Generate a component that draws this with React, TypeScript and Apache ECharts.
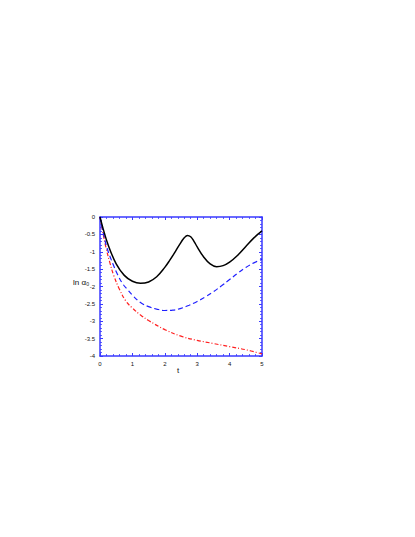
import React, { useEffect, useRef } from "react";
import * as echarts from "echarts";

const tBlack = [0, 0.1, 0.25, 0.5, 0.75, 1.0, 1.25, 1.5, 1.75, 2.0, 2.15, 2.3, 2.45, 2.6, 2.7, 2.8, 2.9, 3.0, 3.2, 3.4, 3.6, 3.8, 4.0, 4.25, 4.5, 4.75, 5.0];
const vBlack = [0, -0.35, -0.8, -1.35, -1.68, -1.85, -1.91, -1.87, -1.72, -1.45, -1.25, -1.03, -0.8, -0.6, -0.53, -0.57, -0.7, -0.86, -1.15, -1.35, -1.43, -1.4, -1.3, -1.1, -0.85, -0.6, -0.4];

const tBlue = [0, 0.1, 0.22, 0.4, 0.55, 0.7, 0.86, 1.0, 1.25, 1.5, 1.75, 2.0, 2.25, 2.5, 2.75, 3.0, 3.25, 3.5, 3.75, 4.0, 4.25, 4.5, 4.75, 5.0];
const vBlue = [0, -0.45, -0.9, -1.35, -1.67, -1.92, -2.1, -2.25, -2.46, -2.58, -2.65, -2.69, -2.68, -2.63, -2.54, -2.43, -2.3, -2.15, -1.98, -1.8, -1.62, -1.45, -1.32, -1.22];

const tRed = [0, 0.1, 0.19, 0.3, 0.42, 0.6, 0.8, 1.0, 1.25, 1.5, 2.0, 2.5, 3.0, 3.5, 4.0, 4.5, 5.0];
const vRed = [0, -0.5, -0.9, -1.3, -1.67, -2.08, -2.42, -2.62, -2.82, -2.98, -3.24, -3.43, -3.55, -3.64, -3.73, -3.82, -3.94];

const xTicks = [0, 1, 2, 3, 4, 5];
const yTicks = [0, -0.5, -1, -1.5, -2, -2.5, -3, -3.5, -4];

const axisBlue = "#3a3aff";
const font = "Liberation Sans, Arial, sans-serif";

function pairs(t: number[], v: number[]) {
  return t.map((x, i) => [x, v[i]]);
}

export default function App() {
  const ref = useRef<HTMLDivElement>(null);
  useEffect(() => {
    if (!ref.current) return;
    const chart = echarts.init(ref.current, null, { renderer: "svg" });
    const axisCommon = {
      axisLine: { show: true, onZero: false, lineStyle: { color: axisBlue, width: 1.5 } },
      axisTick: { show: true, inside: true, length: 3, lineStyle: { color: axisBlue, width: 1 } },
      minorTick: { show: true, splitNumber: 5, length: 2, lineStyle: { color: axisBlue, width: 0.8 } },
      splitLine: { show: false },
    };
    const labelStyle = { fontSize: 6, color: "#111", fontFamily: font };
    chart.setOption({
      animation: false,
      backgroundColor: "#fff",
      grid: { left: 100, top: 217, width: 162, height: 139, containLabel: false },
      xAxis: [
        {
          type: "value", min: 0, max: 5, interval: 1, position: "bottom",
          ...axisCommon,
          axisLabel: { ...labelStyle, margin: 5, formatter: (v: number) => (xTicks.includes(v) ? String(v) : "") },
        },
        {
          type: "value", min: 0, max: 5, interval: 1, position: "top",
          ...axisCommon, axisLabel: { show: false },
        },
      ],
      yAxis: [
        {
          type: "value", min: -4, max: 0, interval: 0.5, position: "left",
          ...axisCommon,
          axisLabel: { ...labelStyle, margin: 5, formatter: (v: number) => (yTicks.includes(v) ? String(v) : "") },
        },
        {
          type: "value", min: -4, max: 0, interval: 0.5, position: "right",
          ...axisCommon, axisLabel: { show: false },
        },
      ],
      graphic: [
        { type: "text", left: 73, top: 278, style: { text: "ln α₀", fontSize: 8, fill: "#111", fontFamily: font } },
        { type: "text", left: 177, top: 366, style: { text: "t", fontSize: 8, fill: "#111", fontFamily: font } },
      ],
      series: [
        {
          type: "line", data: pairs(tRed, vRed), smooth: 0.4, showSymbol: false,
          lineStyle: { color: "#ff2020", width: 1.2, type: [4, 2, 1, 2] },
        },
        {
          type: "line", data: pairs(tBlue, vBlue), smooth: 0.4, showSymbol: false,
          lineStyle: { color: "#2020ff", width: 1.2, type: [5, 3] },
        },
        {
          type: "line", data: pairs(tBlack, vBlack), smooth: 0.4, showSymbol: false,
          lineStyle: { color: "#000", width: 1.5, type: "solid" },
        },
      ],
    });
    return () => chart.dispose();
  }, []);
  return <div ref={ref} style={{ width: 415, height: 537, position: "absolute", left: 0, top: 0 }} />;
}
